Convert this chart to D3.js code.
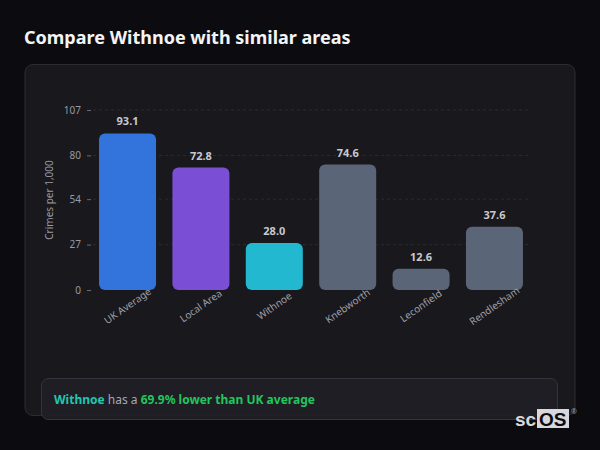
<!DOCTYPE html>
<html>
<head>
<meta charset="utf-8">
<script src="https://cdn.jsdelivr.net/npm/d3@7"></script>
<style>
  html, body { margin: 0; padding: 0; background: #0c0c10; }
  svg { display: block; font-family: "Noto Sans", "Open Sans", sans-serif; }
</style>
</head>
<body>
<svg id="chart" width="600" height="450"></svg>
<script>
// data
const areas = ["UK Average", "Local Area", "Withnoe", "Knebworth", "Leconfield", "Rendlesham"]
const rates = [93.1, 72.8, 28.0, 74.6, 12.6, 37.6]
const barColors = ["#3373dc", "#7a4fd6", "#22b8d0", "#5a6577", "#5a6577", "#5a6577"]
const yTicks = [0, 27, 54, 80, 107]
const yMax = 107

const svg = d3.select("#chart")

// title
svg.append("text")
  .attr("x", 24).attr("y", 44)
  .attr("fill", "#f4f4f6")
  .style("font-size", "18px").style("font-weight", 700)
  .text("Compare Withnoe with similar areas")

// card
svg.append("rect")
  .attr("x", 25).attr("y", 64.5)
  .attr("width", 550).attr("height", 351)
  .attr("rx", 8)
  .attr("fill", "#18181d")
  .attr("stroke", "#2c2c33")

let x = d3.scaleBand().domain(areas).range([91.7, 530.3]).paddingInner(0.223).paddingOuter(0.1)
let y = d3.scaleLinear().domain([0, yMax]).range([290, 110])

let g = svg.append("g")

//grid
g.selectAll(".grid")
  .data(yTicks.slice(1))
  .enter()
  .append("line")
  .attr("class", "grid")
  .attr("x1", 93).attr("x2", 530)
  .attr("y1", d => y(d)).attr("y2", d => y(d))
  .style("stroke", "#2a2a31")
  .style("stroke-dasharray", "3,3")

//y axis
let yAxis = g.append("g")
  .attr("transform", "translate(91,0)")
  .call(d3.axisLeft(y).tickValues(yTicks).tickSize(4).tickPadding(6))
yAxis.select(".domain").remove()
yAxis.selectAll("line").style("stroke", "#6b6b74")
yAxis.selectAll("text")
  .style("fill", "#9a9aa3")
  .style("font-size", "10px")
  .style("font-family", "\"Noto Sans\", sans-serif")

svg.append("text")
  .attr("transform", "translate(53,200) rotate(-90)")
  .attr("text-anchor", "middle")
  .attr("fill", "#9a9aa3")
  .style("font-size", "10px")
  .text("Crimes per 1,000")

//bars
g.selectAll(".bar")
  .data(rates)
  .enter()
  .append("rect")
  .attr("class", "bar")
  .attr("x", (d, i) => x(areas[i]))
  .attr("y", d => y(d))
  .attr("width", x.bandwidth())
  .attr("height", d => y(0) - y(d))
  .attr("rx", 6)
  .style("fill", (d, i) => barColors[i])

//value labels
g.selectAll(".val")
  .data(rates)
  .enter()
  .append("text")
  .attr("class", "val")
  .attr("x", (d, i) => x(areas[i]) + x.bandwidth() / 2)
  .attr("y", d => y(d) - 8)
  .attr("text-anchor", "middle")
  .attr("fill", "#c8c8ce")
  .style("font-size", "11px")
  .style("font-weight", 700)
  .text(d => d.toFixed(1))

//x labels
g.selectAll(".xl")
  .data(areas)
  .enter()
  .append("text")
  .attr("class", "xl")
  .attr("transform", d => "translate(" + (x(d) + x.bandwidth() / 2) + ",306) rotate(-35)")
  .attr("text-anchor", "middle")
  .attr("dy", "0.35em")
  .attr("fill", "#a0a0a8")
  .style("font-size", "10px")
  .text(d => d)

// footer note
svg.append("rect")
  .attr("x", 41.5).attr("y", 378.5)
  .attr("width", 516).attr("height", 41)
  .attr("rx", 7)
  .attr("fill", "#1f1f25")
  .attr("fill-opacity", 0.92)
  .attr("stroke", "#34343c")

let note = svg.append("text")
  .attr("x", 54).attr("y", 404)
  .style("font-size", "12px")
note.append("tspan").attr("fill", "#1fc7b0").style("font-weight", 700).text("Withnoe")
note.append("tspan").attr("fill", "#a8a8b0").text(" has a ")
note.append("tspan").attr("fill", "#22c55e").style("font-weight", 700).text("69.9% lower than UK average")

// watermark
let wm = svg.append("g").attr("transform", "translate(515,409)")
wm.append("rect").attr("x", 22).attr("y", 0).attr("width", 32).attr("height", 19).attr("fill", "#d8d8dc")
wm.append("text").attr("x", 0).attr("y", 17).attr("fill", "#d8d8dc")
  .style("font-size", "19px").style("font-weight", 700).style("font-family", "Arial, \"Liberation Sans\", sans-serif")
  .text("sc")
wm.append("text").attr("x", 24).attr("y", 17).attr("fill", "#0c0c10")
  .style("font-size", "19px").style("font-weight", 700).style("font-family", "Arial, \"Liberation Sans\", sans-serif")
  .text("OS")
wm.append("text").attr("x", 56).attr("y", 5).attr("fill", "#a0a0a8")
  .style("font-size", "7px").text("®")
</script>
</body>
</html>
